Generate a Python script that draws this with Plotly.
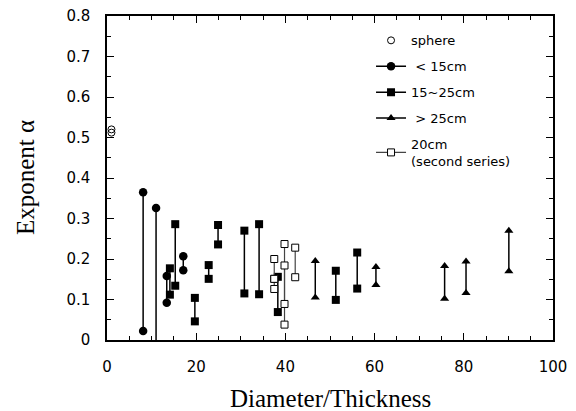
import plotly.graph_objects as go

# ---- data ----
sphere_x = [1.0, 1.0]
sphere_y = [0.520, 0.512]

small_x = [8.1, 11.0, 13.4, 17.1]
small_hi = [0.365, 0.326, 0.158, 0.207]
small_lo = [0.022, -0.030, 0.092, 0.172]

mid_x = [14.1, 15.3, 19.7, 22.8, 24.9, 30.8, 34.1, 38.3, 51.3, 56.1]
mid_hi = [0.177, 0.286, 0.104, 0.185, 0.284, 0.270, 0.286, 0.156, 0.171, 0.216]
mid_lo = [0.112, 0.134, 0.046, 0.151, 0.236, 0.115, 0.113, 0.069, 0.099, 0.127]

large_x = [46.7, 60.3, 75.7, 80.5, 90.1]
large_hi = [0.195, 0.180, 0.183, 0.194, 0.270]
large_lo = [0.105, 0.136, 0.102, 0.116, 0.170]

second_x = [37.5, 37.5, 39.8, 39.8, 42.2]
second_hi = [0.200, 0.151, 0.237, 0.184, 0.228]
second_lo = [0.126, 0.151, 0.038, 0.089, 0.155]

x_ticks = [0, 20, 40, 60, 80, 100]
y_ticks = [0, 0.1, 0.2, 0.3, 0.4, 0.5, 0.6, 0.7, 0.8]
y_tick_text = ["0", "0.1", "0.2", "0.3", "0.4", "0.5", "0.6", "0.7", "0.8"]


def pairs(xs, his, los):
    px, py = [], []
    for x, h, l in zip(xs, his, los):
        px += [x, x, None]
        py += [h, l, None]
    return px, py


SANS = "DejaVu Sans"
SERIF = "Liberation Serif"

fig = go.Figure()

fig.add_trace(go.Scatter(
    x=sphere_x, y=sphere_y, mode="markers", name="sphere",
    marker=dict(symbol="circle-open", size=7, color="black", line=dict(width=1)),
    legendgroup="a",
))

sx, sy = pairs(small_x, small_hi, small_lo)
fig.add_trace(go.Scatter(
    x=sx, y=sy, mode="lines+markers", name=" < 15cm",
    line=dict(color="black", width=1.5),
    marker=dict(symbol="circle", size=8.5, color="black"),
    legendgroup="b",
))

mx, my = pairs(mid_x, mid_hi, mid_lo)
fig.add_trace(go.Scatter(
    x=mx, y=my, mode="lines+markers", name="15~25cm",
    line=dict(color="black", width=1.5),
    marker=dict(symbol="square", size=8, color="black"),
    legendgroup="c",
))

lx, ly = pairs(large_x, large_hi, large_lo)
fig.add_trace(go.Scatter(
    x=lx, y=ly, mode="lines+markers", name=" > 25cm",
    line=dict(color="black", width=1.5),
    marker=dict(symbol="triangle-up", size=8, color="black"),
    legendgroup="d",
))

ox, oy = pairs(second_x, second_hi, second_lo)
fig.add_trace(go.Scatter(
    x=ox, y=oy, mode="lines+markers", name="20cm<br>(second series)",
    line=dict(color="#444444", width=1.2),
    marker=dict(symbol="square", size=7, color="white", line=dict(color="black", width=1)),
    legendgroup="e",
))

axis_common = dict(
    showline=True, linecolor="black", linewidth=1.5, mirror="ticks",
    ticks="inside", ticklen=7, tickwidth=1.2, tickcolor="black",
    showgrid=False, zeroline=False, automargin=False,
    tickfont=dict(family=SANS, size=15, color="black"),
)

fig.update_xaxes(
    range=[0, 100], tickvals=x_ticks,
    minor=dict(ticks="inside", ticklen=4, tickwidth=1, tickcolor="black", dtick=5),
    ticklabelstandoff=12,
    **axis_common,
)
fig.update_yaxes(
    range=[0, 0.8], tickvals=y_ticks, ticktext=y_tick_text,
    minor=dict(ticks="inside", ticklen=4, tickwidth=1, tickcolor="black", dtick=0.05),
    ticklabelstandoff=12,
    **axis_common,
)

fig.update_layout(
    width=576, height=411,
    margin=dict(l=107, r=23, t=16, b=71),
    paper_bgcolor="white", plot_bgcolor="white",
    showlegend=True,
    legend=dict(
        x=0.592, y=0.971, xanchor="left", yanchor="top",
        bgcolor="rgba(0,0,0,0)", borderwidth=0,
        font=dict(family=SANS, size=13, color="black"),
        tracegroupgap=6, itemwidth=30,
    ),
    annotations=[
        dict(text="Diameter/Thickness", xref="paper", yref="paper", x=0.5, y=0,
             xanchor="center", yanchor="middle", yshift=-58, showarrow=False,
             font=dict(family=SERIF, size=25, color="black")),
        dict(text="Exponent α", xref="paper", yref="paper", x=0, y=0.5,
             xanchor="center", yanchor="middle", xshift=-82, textangle=-90, showarrow=False,
             font=dict(family=SERIF, size=25, color="black")),
    ],
)

fig.write_html(
    "out.html",
    config={"displayModeBar": False},
    post_script="document.body.style.margin='0';document.body.style.overflow='hidden';",
)
